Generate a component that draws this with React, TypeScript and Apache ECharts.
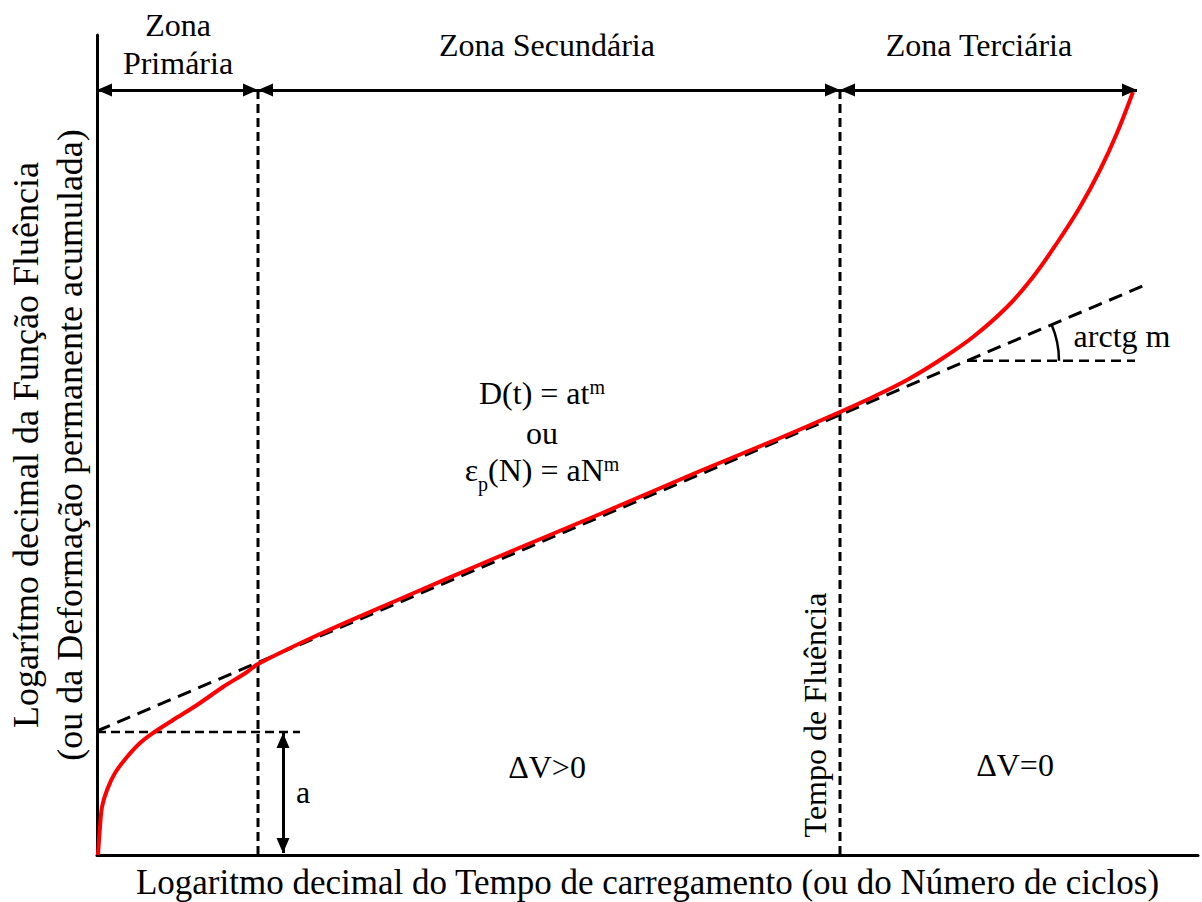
import React, { useEffect, useRef } from "react";
import * as echarts from "echarts";

// Schematic creep curve: log(time or cycles) vs log(creep function / permanent strain)
// Plot coordinates: x spans 0..1101, y spans 0..820 (unitless schematic scale)
const X_MAX = 1101;
const Y_MAX = 820;

// Red creep curve
const curveX = [1, 3, 5, 10, 18, 30, 43, 56, 76, 100, 126, 150, 161, 223, 303, 403, 503, 603, 683, 743, 776, 810, 843, 876, 910, 936, 960, 983, 1003, 1020, 1036];
const curveY = [0, 28, 48, 65, 82, 98, 112, 122, 135, 150, 168, 183, 191, 221, 256, 299, 341, 384, 417, 443, 458, 475, 495, 518, 548, 578, 612, 648, 685, 722, 763];

// Secondary-zone tangent (log D = log a + m log t)
const tangentX = [0, 1048];
const tangentY = [124, 570];

// Zone boundaries along x (start, primary/secondary, secondary/tertiary, end)
const zoneBounds = [0, 161, 743, 1040];
const zoneArrowY = 765;

// Intercept "a" marker
const interceptY = 123;
const interceptLineEndX = 203;
const interceptArrowX = 186;

// Slope reference (arctg m)
const slopeRefX = [870, 1038];
const slopeArcRadius = 92;

const FF = "'Liberation Serif', 'DejaVu Serif', serif";
const INK = "#000";

export default function App() {
  const ref = useRef<HTMLDivElement | null>(null);

  useEffect(() => {
    if (!ref.current) return;
    const chart = echarts.init(ref.current, undefined, { renderer: "svg" });

    const slope = (tangentY[1] - tangentY[0]) / (tangentX[1] - tangentX[0]);
    const slopeRefY = tangentY[0] + slope * (slopeRefX[0] - tangentX[0]);

    const dashed = (data: number[][], width: number, dash: number[]) => ({
      type: "line",
      data,
      showSymbol: false,
      symbol: "none",
      silent: true,
      lineStyle: { color: INK, width, type: dash },
      z: 2,
    });

    const arrowStyle = {
      silent: true,
      symbol: ["triangle", "triangle"],
      symbolSize: [13, 15],
      symbolOffset: [[0, 7.5], [0, 7.5]],
      label: { show: false },
      lineStyle: { color: INK, width: 3, type: "solid" },
      emphasis: { disabled: true },
    };

    const titleText = (text: string, x: number, y: number, size = 32, extra: any = {}) => ({
      type: "text",
      x,
      y,
      silent: true,
      ...extra,
      style: {
        text,
        fill: INK,
        fontFamily: FF,
        fontSize: size,
        align: "center",
        textAlign: "center",
        verticalAlign: "middle",
        textVerticalAlign: "middle",
      },
    });

    const richText = (text: string, x: number, y: number, rich: any) => ({
      type: "text",
      x,
      y,
      silent: true,
      style: {
        text,
        rich,
        fill: INK,
        fontFamily: FF,
        fontSize: 32,
        align: "center",
        textAlign: "center",
        verticalAlign: "middle",
        textVerticalAlign: "middle",
      },
    });

    const richBase = { fontFamily: FF, fontSize: 32, color: INK, fill: INK };
    const richSup = { fontFamily: FF, fontSize: 20, color: INK, fill: INK, verticalAlign: "top" };
    const richSub = { fontFamily: FF, fontSize: 20, color: INK, fill: INK, verticalAlign: "bottom", padding: [0, 0, -8, 0] };

    chart.setOption({
      animation: false,
      backgroundColor: "#fff",
      textStyle: { fontFamily: FF },
      grid: { left: 97, top: 35, right: 4, bottom: 47, containLabel: false, outerBoundsMode: "none" },
      xAxis: {
        type: "value",
        min: 0,
        max: X_MAX,
        axisLine: { show: true, onZero: false, lineStyle: { color: INK, width: 3 } },
        axisTick: { show: false },
        axisLabel: { show: false },
        splitLine: { show: false },
        name: "Logaritmo decimal do Tempo de carregamento (ou do Número de ciclos)",
        nameLocation: "middle",
        nameGap: 9,
        nameTextStyle: { fontFamily: FF, fontSize: 35, color: INK, verticalAlign: "top", lineHeight: 36 },
      },
      yAxis: {
        type: "value",
        min: 0,
        max: Y_MAX,
        axisLine: { show: true, onZero: false, lineStyle: { color: INK, width: 3 } },
        axisTick: { show: false },
        axisLabel: { show: false },
        splitLine: { show: false },
        name: "Logarítmo decimal da Função Fluência\n(ou da Deformação permanente acumulada)",
        nameLocation: "middle",
        nameGap: 49,
        nameRotate: 90,
        nameTextStyle: { fontFamily: FF, fontSize: 36, color: INK, lineHeight: 44, verticalAlign: "middle" },
      },
      series: [
        dashed([[tangentX[0], tangentY[0]], [tangentX[1], tangentY[1]]], 3, [14, 8]),
        dashed([[zoneBounds[1], 0], [zoneBounds[1], zoneArrowY]], 3, [9, 5]),
        dashed([[zoneBounds[2], 0], [zoneBounds[2], zoneArrowY]], 3, [9, 5]),
        dashed([[0, interceptY], [interceptLineEndX, interceptY]], 2.5, [9, 5]),
        dashed([[slopeRefX[0], slopeRefY], [slopeRefX[1], slopeRefY]], 2.5, [10, 6]),
        {
          type: "line",
          name: "curva",
          data: curveX.map((x, i) => [x, curveY[i]]),
          smooth: 0.35,
          showSymbol: false,
          symbol: "none",
          silent: true,
          lineStyle: { color: "#ff0000", width: 4 },
          z: 3,
          markLine: {
            ...arrowStyle,
            data: [
              [{ coord: [zoneBounds[0], zoneArrowY] }, { coord: [zoneBounds[1], zoneArrowY] }],
              [{ coord: [zoneBounds[1], zoneArrowY] }, { coord: [zoneBounds[2], zoneArrowY] }],
              [{ coord: [zoneBounds[2], zoneArrowY] }, { coord: [zoneBounds[3], zoneArrowY] }],
              [{ coord: [interceptArrowX, interceptY - 1] }, { coord: [interceptArrowX, 2] }],
            ],
          },
        },
        {
          type: "custom",
          silent: true,
          data: [[slopeRefX[0], slopeRefY]],
          renderItem: (_params: any, api: any) => {
            const c = api.coord([api.value(0), api.value(1)]);
            const r = api.size([slopeArcRadius, 0])[0];
            return {
              type: "arc",
              shape: { cx: c[0], cy: c[1], r, startAngle: -Math.atan(slope), endAngle: 0, clockwise: true },
              style: { stroke: INK, lineWidth: 2.5, fill: null },
            };
          },
          z: 2,
        },
      ],
      graphic: [
        titleText("Zona", 178, 25),
        titleText("Primária", 178, 63),
        titleText("Zona Secundária", 547, 45),
        titleText("Zona Terciária", 979, 45),
        richText("{n|D(t) = at}{s|m}", 542, 393, { n: richBase, s: richSup }),
        titleText("ou", 542, 433, 32),
        richText("{n|ε}{b|p}{n|(N) = aN}{s|m}", 542, 470, { n: richBase, s: richSup, b: richSub }),
        titleText("ΔV>0", 547, 767, 32),
        titleText("ΔV=0", 1015, 765, 32),
        titleText("a", 303, 792, 32),
        titleText("arctg m", 1122, 336, 32),
        titleText("Tempo de Fluência", 815, 715, 32, { rotation: Math.PI / 2 }),
      ],
    });

    return () => chart.dispose();
  }, []);

  return (
    <div
      ref={ref}
      style={{ position: "fixed", left: 0, top: 0, width: 1202, height: 902, background: "#fff" }}
    />
  );
}
